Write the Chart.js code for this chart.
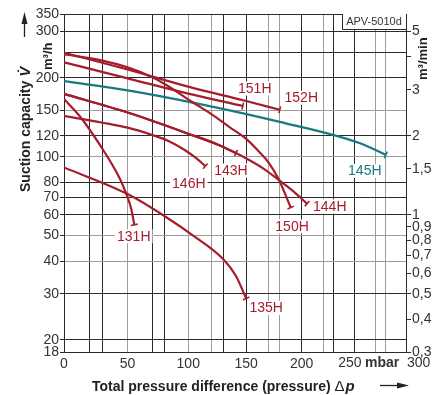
<!DOCTYPE html>
<html><head><meta charset="utf-8">
<script src="https://cdn.jsdelivr.net/npm/chart.js@4.4.0/dist/chart.umd.min.js"></script>
<style>html,body{margin:0;padding:0;background:#fff}#wrap{width:445px;height:395px;position:relative}</style>
</head><body><div id="wrap"><canvas id="c"></canvas></div>
<script>
// ---- axes ----
const xTicks = [0,20,30,50,70,80,100,120,130,150,170,180,200,220,230,250,270,280,300];
const xLabelVals = [0,50,100,150,200];
const yTicks = [18,20,30,40,50,60,70,80,100,120,150,200,250,300,350];
const y2Ticks = [0.3,0.4,0.5,0.6,0.7,0.8,0.9,1,1.5,2,3,4,5];
// ---- series (Δp in mbar, suction capacity in m³/h) ----
const p131 = [0,13,30,39,44,49,53,55.4];
const v131 = [166,141,107,91,82,72,63,55];
const p135 = [0,50,81,103,130,141,150];
const v135 = [91,72,59,50.4,40.6,35.1,28.8];
const p143 = [0,50,100,127,141];
const v143 = [173.5,147.4,122.4,110.4,103.2];
const p144 = [0,50,100,127,141,153,166,179,193,205];
const v144 = [173.5,147.4,122.4,110.4,103.2,96.9,89.7,81.6,73.4,66.2];
const p145 = [0,50,109,179,255,280];
const v145 = [194,179,159,136,112.5,101.6];
const p146 = [0,29,50,70,83,97,107,114.5];
const v146 = [143,135,129,121,115,106,98.5,92];
const p150 = [0,29,50,70,83,103,120,135,150,161,170,179,190];
const v150 = [246,233,219,201,186,162,145,130,117,105,95,82,64];
const p151 = [0,50,100,147];
const v151 = [229,199,174,156];
const p152 = [0,50,100,150,180];
const v152 = [249,215,185,163,151];

const RED = '#a51d2c', TEAL = '#167a80';
const DARK = '#2a2a2a', GRAY = '#9c9c9c', TXT = '#333';
const FONT = '"Liberation Sans", Arial, sans-serif';
const darkX = [0,20,30,70,80,130,150,200,230,250,300];
const darkY = [18,20,30,60,70,80,120,200,250,300,350];
const T = v => Math.log10(1000 + v);
const M = v => Math.round(Math.pow(10, v) - 1000);
const mk = (ps, vs) => ps.map((p, i) => ({x: T(p), y: vs[i]}));

const series = [
  {name:'131H', p:p131, v:v131, color:RED,  off:[-0.5,11.5]},
  {name:'135H', p:p135, v:v135, color:RED,  off:[20,9.5]},
  {name:'146H', p:p146, v:v146, color:RED,  off:[-16.5,17.5]},
  {name:'143H', p:p143, v:v143, color:RED,  off:[-5,17.5]},
  {name:'144H', p:p144, v:v144, color:RED,  off:[22.7,2.8]},
  {name:'150H', p:p150, v:v150, color:RED,  off:[1.3,19]},
  {name:'151H', p:p151, v:v151, color:RED,  off:[12,-17.5]},
  {name:'152H', p:p152, v:v152, color:RED,  off:[21.5,-12]},
  {name:'145H', p:p145, v:v145, color:TEAL, off:[-21,16]}
];

Chart.defaults.font.family = FONT;

const decor = {
  id: 'decor',
  afterDatasetsDraw(chart) {
    const ctx = chart.ctx;
    ctx.save();
    chart.data.datasets.forEach((ds, i) => {
      const pts = chart.getDatasetMeta(i).data;
      const a = pts[pts.length - 2], b = pts[pts.length - 1];
      let dx = b.x - a.x, dy = b.y - a.y;
      const L = Math.hypot(dx, dy) || 1; dx /= L; dy /= L;
      const nx = -dy, ny = dx, h = 3.5;
      ctx.strokeStyle = ds.borderColor; ctx.lineWidth = 1.6;
      ctx.beginPath(); ctx.moveTo(b.x - nx*h, b.y - ny*h); ctx.lineTo(b.x + nx*h, b.y + ny*h); ctx.stroke();
    });
    ctx.font = '14px ' + FONT; ctx.textAlign = 'center'; ctx.textBaseline = 'middle';
    series.forEach((s, i) => {
      const pts = chart.getDatasetMeta(i).data;
      const b = pts[pts.length - 1];
      const cx = b.x + s.off[0], cy = b.y + s.off[1];
      const w = ctx.measureText(s.name).width + 4;
      ctx.fillStyle = '#fff'; ctx.fillRect(cx - w/2, cy - 7, w, 14);
      ctx.fillStyle = s.color; ctx.fillText(s.name, cx, cy + 0.5);
    });
    ctx.restore();
  },
  afterDraw(chart) {
    const ctx = chart.ctx, ca = chart.chartArea, xs = chart.scales.x;
    ctx.save();
    // APV box
    ctx.fillStyle = '#fff'; ctx.fillRect(342, ca.top, ca.right - 342, 15);
    ctx.strokeStyle = DARK; ctx.lineWidth = 1;
    ctx.beginPath(); ctx.moveTo(342.5, ca.top); ctx.lineTo(342.5, ca.top + 15.5); ctx.lineTo(ca.right, ca.top + 15.5); ctx.stroke();
    ctx.fillStyle = TXT; ctx.font = '11px ' + FONT; ctx.textAlign = 'center'; ctx.textBaseline = 'middle';
    ctx.fillText('APV-5010d', (342 + ca.right) / 2, ca.top + 8);
    // x labels 250, mbar, 300
    ctx.font = '14px ' + FONT; ctx.textBaseline = 'middle';
    const ly = 363;
    ctx.textAlign = 'center'; ctx.fillText('250', xs.getPixelForValue(T(250)) - 5, ly);
    ctx.textAlign = 'left'; ctx.fillText('300', xs.getPixelForValue(T(300)) + 1, ly);
    ctx.font = 'bold 14px ' + FONT; ctx.fillText('mbar', 365, ly);
    // x title
    ctx.textBaseline = 'alphabetic'; ctx.textAlign = 'left';
    let tx = 92; const ty = 391;
    const t1 = 'Total pressure difference (pressure) ';
    ctx.fillStyle = '#222';
    ctx.font = 'bold 14px ' + FONT; ctx.fillText(t1, tx, ty); tx += ctx.measureText(t1).width;
    ctx.font = '15px ' + FONT; ctx.fillText('Δ', tx, ty); tx += ctx.measureText('Δ').width + 1;
    ctx.font = 'bold italic 15px ' + FONT; ctx.fillText('p', tx, ty);
    // x arrow
    ctx.strokeStyle = '#222'; ctx.fillStyle = '#222'; ctx.lineWidth = 1.3;
    ctx.beginPath(); ctx.moveTo(380, 385.5); ctx.lineTo(400, 385.5); ctx.stroke();
    ctx.beginPath(); ctx.moveTo(409, 385.5); ctx.lineTo(397, 382.5); ctx.lineTo(397, 388.5); ctx.closePath(); ctx.fill();
    // left title
    ctx.save();
    ctx.translate(30, 192); ctx.rotate(-Math.PI/2);
    ctx.fillStyle = '#222'; ctx.textAlign = 'left'; ctx.textBaseline = 'alphabetic';
    ctx.font = 'bold 14px ' + FONT;
    const s1 = 'Suction capacity ';
    ctx.fillText(s1, 0, 0); const w = ctx.measureText(s1).width;
    ctx.font = 'bold italic 15px ' + FONT; ctx.fillText('V\u0307', w, 0);
    ctx.lineWidth = 1.3; ctx.beginPath(); ctx.moveTo(155, -5.5); ctx.lineTo(170, -5.5); ctx.stroke();
    ctx.beginPath(); ctx.moveTo(180, -5.5); ctx.lineTo(168, -8.5); ctx.lineTo(168, -2.5); ctx.closePath(); ctx.fill();
    ctx.restore();
    // m³/h
    ctx.save();
    ctx.translate(52, 70); ctx.rotate(-Math.PI/2);
    ctx.fillStyle = '#222'; ctx.font = 'bold 13px ' + FONT; ctx.textAlign = 'left'; ctx.textBaseline = 'alphabetic';
    ctx.fillText('m³/h', 0, 0);
    ctx.restore();
    // m³/min
    ctx.save();
    ctx.translate(427, 80); ctx.rotate(-Math.PI/2);
    ctx.fillStyle = '#222'; ctx.font = 'bold 13px ' + FONT; ctx.textAlign = 'left'; ctx.textBaseline = 'alphabetic';
    ctx.fillText('m³/min', 0, 0);
    ctx.restore();
    ctx.restore();
  }
};

new Chart(document.getElementById('c'), {
  type: 'line',
  data: { datasets: series.map(s => ({
    label: s.name, data: mk(s.p, s.v), borderColor: s.color, backgroundColor: s.color,
    borderWidth: 2.2, pointRadius: 0, fill: false, cubicInterpolationMode: 'monotone'
  })) },
  options: {
    responsive: true, maintainAspectRatio: false, animation: false,
    layout: { padding: { top: 14, left: 0, right: 0, bottom: 0 } },
    plugins: { legend: { display: false }, tooltip: { enabled: false } },
    scales: {
      x: {
        type: 'linear', position: 'bottom', min: T(0), max: T(300),
        afterBuildTicks: s => { s.ticks = xTicks.map(v => ({ value: T(v) })); },
        afterFit: s => { s.height = 43; },
        ticks: { autoSkip: false, maxRotation: 0, padding: 4, color: TXT, font: { size: 14 },
          callback: v => { const m = M(v); return xLabelVals.includes(m) ? String(m) : ''; } },
        grid: { color: c => darkX.includes(M(c.tick.value)) ? DARK : GRAY, lineWidth: 1, drawTicks: false },
        border: { display: true, color: DARK, width: 1 }
      },
      y: {
        type: 'logarithmic', position: 'left', min: 18, max: 350,
        afterBuildTicks: s => { s.ticks = yTicks.map(v => ({ value: v })); },
        afterFit: s => { s.width = 64; },
        ticks: { autoSkip: false, padding: 1, color: TXT, font: { size: 14 },
          callback: v => v === 250 ? '' : String(v) },
        grid: { color: c => darkY.includes(c.tick.value) ? DARK : GRAY, lineWidth: 1, tickLength: 4,
          tickColor: c => c.tick && c.tick.value === 250 ? 'rgba(0,0,0,0)' : DARK },
        border: { display: true, color: DARK, width: 1 }
      },
      y2: {
        type: 'logarithmic', position: 'right', min: 0.3, max: 350/60,
        afterBuildTicks: s => { s.ticks = y2Ticks.map(v => ({ value: v })); },
        afterFit: s => { s.width = 39; },
        ticks: { autoSkip: false, padding: 1, color: TXT, font: { size: 14 },
          callback: v => v === 4 ? '' : String(v).replace('.', ',') },
        grid: { drawOnChartArea: false, tickLength: 5, tickColor: DARK },
        border: { display: true, color: DARK, width: 1 }
      }
    }
  },
  plugins: [decor]
});
</script>
</body></html>
